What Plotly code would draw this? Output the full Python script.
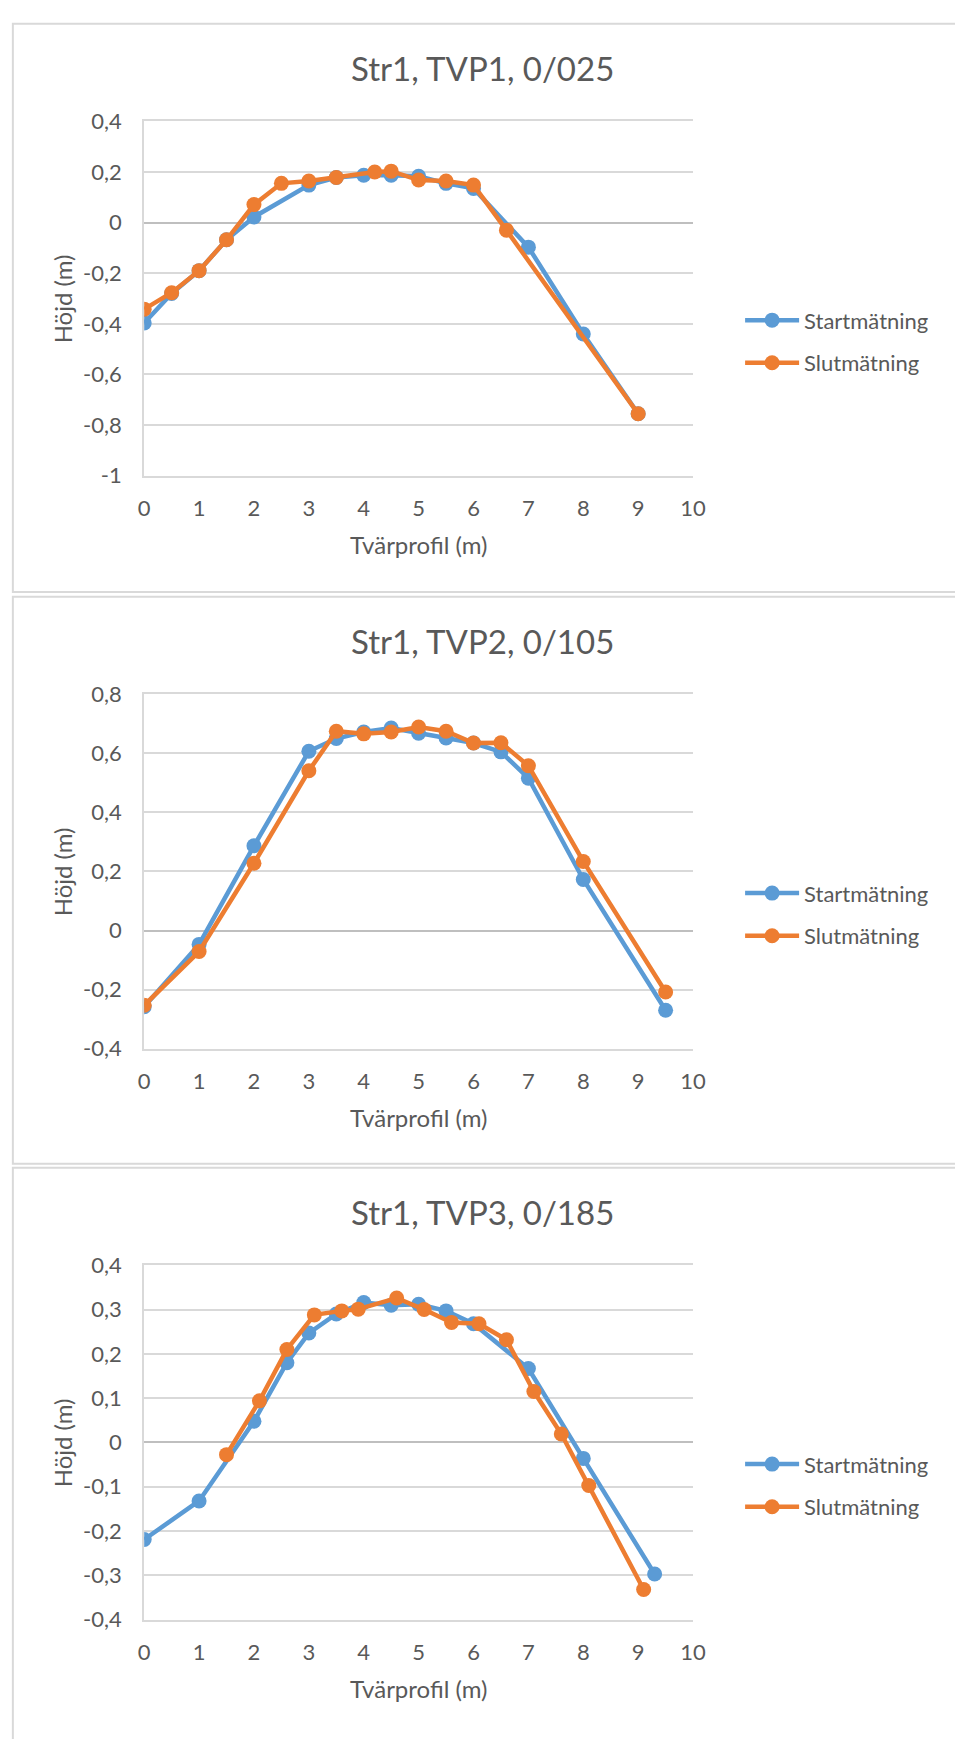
import plotly.graph_objects as go

W, H = 955, 1739

titles = ["Str1, TVP1, 0/025", "Str1, TVP2, 0/105", "Str1, TVP3, 0/185"]
series_names = ["Startmätning", "Slutmätning"]
x_title = "Tvärprofil (m)"
y_title = "Höjd (m)"

# Chart 1
c1_start_x = [0, 0.5, 1, 1.5, 2, 3, 3.5, 4, 4.5, 5, 5.5, 6, 7, 8, 9]
c1_start_y = [-0.397, -0.28, -0.19, -0.068, 0.022, 0.148, 0.178, 0.187, 0.187, 0.183, 0.155, 0.135, -0.097, -0.44, -0.755]
c1_end_x = [0, 0.5, 1, 1.5, 2, 2.5, 3, 3.5, 4.2, 4.5, 5, 5.5, 6, 6.6, 9]
c1_end_y = [-0.342, -0.277, -0.19, -0.068, 0.071, 0.155, 0.164, 0.178, 0.2, 0.203, 0.168, 0.164, 0.148, -0.03, -0.755]

# Chart 2
c2_x = [0, 1, 2, 3, 3.5, 4, 4.5, 5, 5.5, 6, 6.5, 7, 8, 9.5]
c2_start_y = [-0.258, -0.047, 0.287, 0.607, 0.65, 0.672, 0.686, 0.668, 0.652, 0.635, 0.605, 0.516, 0.173, -0.27]
c2_end_y = [-0.253, -0.071, 0.228, 0.541, 0.675, 0.666, 0.672, 0.689, 0.675, 0.635, 0.636, 0.558, 0.234, -0.208]

# Chart 3
c3_start_x = [0, 1, 2, 2.6, 3, 3.5, 4, 4.5, 5, 5.5, 6, 7, 8, 9.3]
c3_start_y = [-0.219, -0.132, 0.048, 0.18, 0.247, 0.29, 0.316, 0.31, 0.312, 0.297, 0.268, 0.167, -0.036, -0.297]
c3_end_x = [1.5, 2.1, 2.6, 3.1, 3.6, 3.9, 4.6, 5.1, 5.6, 6.1, 6.6, 7.1, 7.6, 8.1, 9.1]
c3_end_y = [-0.0275, 0.094, 0.21, 0.288, 0.297, 0.301, 0.326, 0.30, 0.271, 0.268, 0.232, 0.115, 0.019, -0.097, -0.332]

x_ticks = list(range(0, 11))
x_ticktext = [str(v) for v in x_ticks]

y1_ticks = [-1, -0.8, -0.6, -0.4, -0.2, 0, 0.2, 0.4]
y1_ticktext = ["-1", "-0,8", "-0,6", "-0,4", "-0,2", "0", "0,2", "0,4"]
y2_ticks = [-0.4, -0.2, 0, 0.2, 0.4, 0.6, 0.8]
y2_ticktext = ["-0,4", "-0,2", "0", "0,2", "0,4", "0,6", "0,8"]
y3_ticks = [-0.4, -0.3, -0.2, -0.1, 0, 0.1, 0.2, 0.3, 0.4]
y3_ticktext = ["-0,4", "-0,3", "-0,2", "-0,1", "0", "0,1", "0,2", "0,3", "0,4"]

BLUE = "#5B9BD5"
ORANGE = "#ED7D31"
TXT = "#595959"
GRID = "#D9D9D9"
FONT = "Lato"

charts = [
    (c1_start_x, c1_start_y, c1_end_x, c1_end_y, y1_ticks, y1_ticktext),
    (c2_x, c2_start_y, c2_x, c2_end_y, y2_ticks, y2_ticktext),
    (c3_start_x, c3_start_y, c3_end_x, c3_end_y, y3_ticks, y3_ticktext),
]

box_tops = [10, 592, 1172]
box_bottoms = [587, 1168, 1760]

fig = go.Figure()
layout = dict(
    width=W, height=H, margin=dict(l=0, r=0, t=0, b=0),
    paper_bgcolor="white", plot_bgcolor="white",
    font=dict(family=FONT, color=TXT, size=22),
    annotations=[], shapes=[],
)

def py(v):
    return 1 - v / H

for i, (sx, sy, ex, ey, yt, ytt) in enumerate(charts):
    k = "" if i == 0 else str(i + 1)
    top = box_tops[i]
    plot_top = top + 99
    plot_bot = plot_top + 360
    leg = "legend" if i == 0 else f"legend{i+1}"
    fig.add_trace(go.Scatter(
        x=sx, y=sy, name=series_names[0], mode="lines+markers",
        line=dict(color=BLUE, width=4.5), marker=dict(color=BLUE, size=15),
        xaxis="x" + k, yaxis="y" + k, legend=leg, legendgroup=f"a{i}"))
    fig.add_trace(go.Scatter(
        x=ex, y=ey, name=series_names[1], mode="lines+markers",
        line=dict(color=ORANGE, width=4.5), marker=dict(color=ORANGE, size=15),
        xaxis="x" + k, yaxis="y" + k, legend=leg, legendgroup=f"b{i}"))
    layout["xaxis" + k] = dict(
        domain=[141 / W, 701 / W], range=[0, 10], anchor="y" + k,
        tickvals=x_ticks, ticktext=x_ticktext, showgrid=False, zeroline=False,
        showline=True, mirror=True, linecolor=GRID, linewidth=2,
        ticks="", ticklabelstandoff=12, tickfont=dict(size=22, color=TXT))
    layout["yaxis" + k] = dict(
        domain=[py(plot_bot), py(plot_top)], range=[yt[0], yt[-1]], anchor="x" + k,
        tickvals=yt, ticktext=ytt, showgrid=True, gridcolor=GRID, gridwidth=2,
        zeroline=True, zerolinecolor="#BFBFBF", zerolinewidth=2,
        showline=True, linecolor=GRID, linewidth=2,
        ticks="", ticklabelstandoff=16, tickfont=dict(size=22, color=TXT))
    layout[leg] = dict(
        x=749 / W, xanchor="left", y=py(top + 323), yanchor="middle",
        bgcolor="rgba(0,0,0,0)", font=dict(size=22, color=TXT),
        itemwidth=54, tracegroupgap=11, traceorder="grouped")
    layout["annotations"] += [
        dict(text=titles[i], x=486 / W, y=py(top + 45), xref="paper", yref="paper",
             showarrow=False, xanchor="center", yanchor="middle",
             font=dict(size=33, color=TXT, family=FONT)),
        dict(text=x_title, x=421 / W, y=py(plot_bot + 70), xref="paper", yref="paper",
             showarrow=False, xanchor="center", yanchor="middle",
             font=dict(size=24, color=TXT, family=FONT)),
        dict(text=y_title, x=58 / W, y=py((plot_top + plot_bot) / 2), xref="paper", yref="paper",
             showarrow=False, xanchor="center", yanchor="middle", textangle=-90,
             font=dict(size=24, color=TXT, family=FONT)),
    ]
    layout["shapes"].append(dict(
        type="rect", xref="paper", yref="paper",
        x0=7 / W, x1=1.05, y0=py(box_bottoms[i]), y1=py(top),
        line=dict(color=GRID, width=2), fillcolor="rgba(0,0,0,0)", layer="below"))

fig.update_layout(**layout)
fig.write_html("out.html", post_script="document.body.style.margin='0px';")
